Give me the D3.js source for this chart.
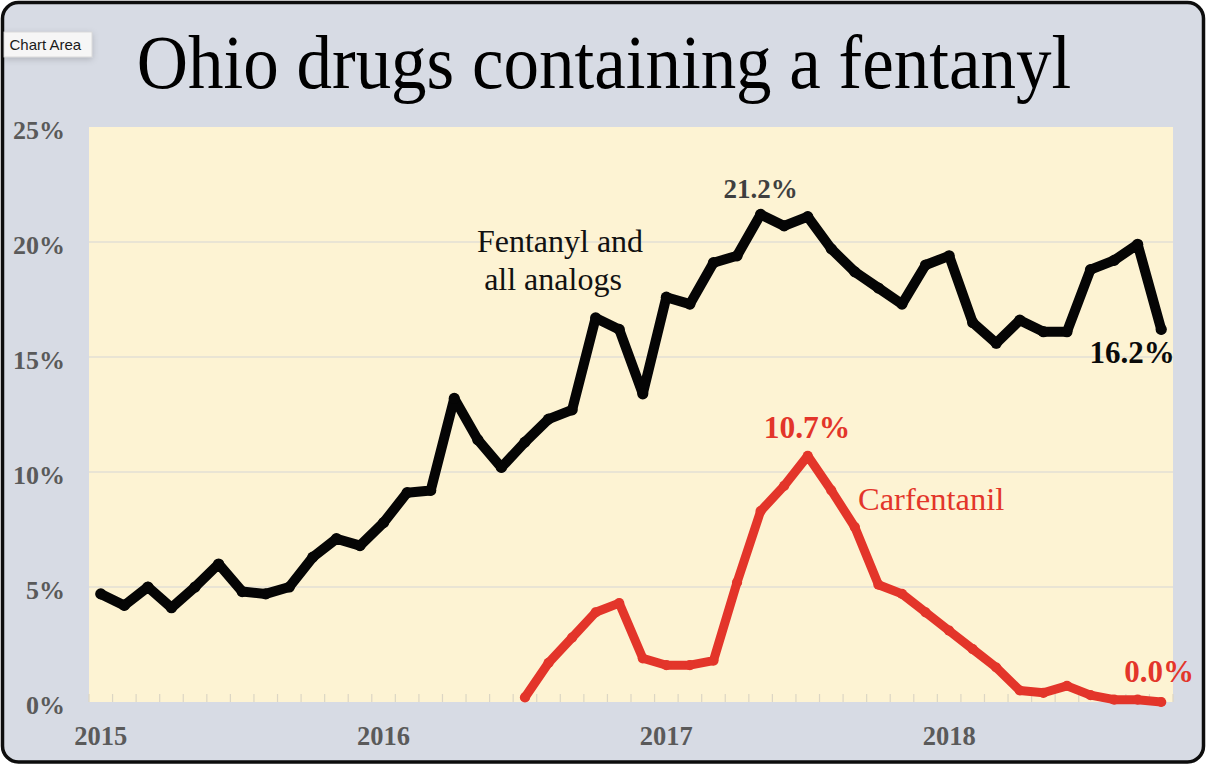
<!DOCTYPE html>
<html>
<head>
<meta charset="utf-8">
<script src="https://cdn.jsdelivr.net/npm/d3@7"></script>
<style>
  html, body { margin: 0; padding: 0; background: #ffffff; }
  svg { display: block; }
</style>
</head>
<body>
<svg id="chart" width="1206" height="765"></svg>
<script>
// Monthly share of Ohio drug samples containing a fentanyl (percent)
const months = [
  "2015-01","2015-02","2015-03","2015-04","2015-05","2015-06","2015-07","2015-08","2015-09","2015-10","2015-11","2015-12",
  "2016-01","2016-02","2016-03","2016-04","2016-05","2016-06","2016-07","2016-08","2016-09","2016-10","2016-11","2016-12",
  "2017-01","2017-02","2017-03","2017-04","2017-05","2017-06","2017-07","2017-08","2017-09","2017-10","2017-11","2017-12",
  "2018-01","2018-02","2018-03","2018-04","2018-05","2018-06","2018-07","2018-08","2018-09","2018-10"
];

const fentanylAll = [
  4.7, 4.2, 5.0, 4.1, 5.0, 6.0, 4.8, 4.7, 5.0, 6.3, 7.1, 6.8,
  7.8, 9.1, 9.2, 13.2, 11.4, 10.2, 11.3, 12.3, 12.7, 16.7, 16.2, 13.4,
  17.6, 17.3, 19.1, 19.4, 21.2, 20.7, 21.1, 19.7, 18.7, 18.0, 17.3, 19.0,
  19.4, 16.5, 15.6, 16.6, 16.1, 16.1, 18.8, 19.2, 19.9, 16.2
];

// Carfentanil is tracked from July 2016 onward
const carfentanilStart = "2016-07";
const carfentanil = [
  0.2, 1.7, 2.8, 3.9, 4.3, 1.9,
  1.6, 1.6, 1.8, 5.2, 8.3, 9.4, 10.7, 9.2, 7.6, 5.1, 4.7, 3.9,
  3.1, 2.3, 1.5, 0.5, 0.4, 0.7, 0.3, 0.1, 0.1, 0.0
];

const yTicks = [0, 5, 10, 15, 20, 25];
const yearLabels = ["2015", "2016", "2017", "2018"];

const W = 1206, H = 765;
const plot = { left: 89, right: 1173, top: 127, bottom: 702 };

const svg = d3.select("#chart");
const serif = "'Liberation Serif', 'Times New Roman', serif";

// Outer chart frame
svg.append("rect")
  .attr("x", 2.5).attr("y", 2.5)
  .attr("width", W - 5).attr("height", H - 5.5)
  .attr("rx", 16).attr("ry", 16)
  .attr("fill", "#d7dbe4")
  .attr("stroke", "#0d0d0d").attr("stroke-width", 3.5);

// Plot area
svg.append("rect")
  .attr("x", plot.left).attr("y", plot.top)
  .attr("width", plot.right - plot.left).attr("height", plot.bottom - plot.top)
  .attr("fill", "#fdf3d3");

const x = d3.scaleBand().domain(months).range([plot.left, plot.right]).paddingInner(0).paddingOuter(0);
const y = d3.scaleLinear().domain([0, 25]).range([plot.bottom, plot.top]);
const cx = m => x(m) + x.bandwidth() / 2;

// Horizontal gridlines
svg.append("g")
  .selectAll("line")
  .data(yTicks.filter(t => t > 0 && t < 25))
  .join("line")
  .attr("x1", plot.left).attr("x2", plot.right)
  .attr("y1", d => y(d)).attr("y2", d => y(d))
  .attr("stroke", "#d6d6d6").attr("stroke-width", 1.2);

// Small tick marks along the category axis, at month boundaries
const boundaries = months.map(m => x(m)).concat([plot.right]);
svg.append("g")
  .selectAll("line")
  .data(boundaries)
  .join("line")
  .attr("x1", d => d).attr("x2", d => d)
  .attr("y1", plot.bottom).attr("y2", plot.bottom - 8)
  .attr("stroke", "#dcd6c4").attr("stroke-width", 1.2);

// Y axis labels
svg.append("g")
  .selectAll("text")
  .data(yTicks)
  .join("text")
  .attr("x", 65)
  .attr("y", d => y(d) + 11.5)
  .attr("text-anchor", "end")
  .attr("font-family", serif)
  .attr("font-weight", "bold")
  .attr("font-size", 26)
  .attr("fill", "#5a5a5a")
  .text(d => d + "%");

// Year labels under each January
svg.append("g")
  .selectAll("text")
  .data(yearLabels)
  .join("text")
  .attr("x", d => cx(d + "-01"))
  .attr("y", 745)
  .attr("text-anchor", "middle")
  .attr("font-family", serif)
  .attr("font-weight", "bold")
  .attr("font-size", 26.5)
  .attr("fill", "#5a5a5a")
  .text(d => d);

// Series
const blackPts = months.map((m, i) => ({ m, v: fentanylAll[i] }));
const startIdx = months.indexOf(carfentanilStart);
const redPts = carfentanil.map((v, i) => ({ m: months[startIdx + i], v }));

const line = d3.line().x(d => cx(d.m)).y(d => y(d.v));

function drawSeries(pts, color, width) {
  svg.append("path")
    .datum(pts)
    .attr("d", line)
    .attr("fill", "none")
    .attr("stroke", color)
    .attr("stroke-width", width)
    .attr("stroke-linejoin", "round")
    .attr("stroke-linecap", "round");
  svg.append("g")
    .selectAll("circle")
    .data(pts)
    .join("circle")
    .attr("cx", d => cx(d.m))
    .attr("cy", d => y(d.v))
    .attr("r", width / 2 + 0.6)
    .attr("fill", color);
}

drawSeries(blackPts, "#050505", 10);
drawSeries(redPts, "#e3352a", 9);

// Title
svg.append("text")
  .attr("x", 604).attr("y", 88)
  .attr("text-anchor", "middle")
  .attr("font-family", serif)
  .attr("font-size", 71)
  .attr("fill", "#000")
  .attr("transform", "translate(0,88) scale(1,1.08) translate(0,-88)")
  .text("Ohio drugs containing a fentanyl");

// Annotations
const peakBlack = blackPts[d3.maxIndex(fentanylAll)];
const lastBlack = blackPts[blackPts.length - 1];
const peakRed = redPts[d3.maxIndex(carfentanil)];
const lastRed = redPts[redPts.length - 1];

function note(txt, xPos, yPos, opts) {
  svg.append("text")
    .attr("x", xPos).attr("y", yPos)
    .attr("text-anchor", opts.anchor || "middle")
    .attr("font-family", serif)
    .attr("font-weight", opts.bold ? "bold" : "normal")
    .attr("font-size", opts.size)
    .attr("fill", opts.color)
    .text(txt);
}

note(peakBlack.v.toFixed(1) + "%", cx(peakBlack.m), 198, { bold: true, size: 27, color: "#3f3f3f" });
note(lastBlack.v.toFixed(1) + "%", 1132, 363, { bold: true, size: 31, color: "#0a0a0a" });
note("Fentanyl and", 560, 252, { size: 32, color: "#111" });
note("all analogs", 553, 290, { size: 32, color: "#111" });
note(peakRed.v.toFixed(1) + "%", 807, 438, { bold: true, size: 31.5, color: "#e3352a" });
note("Carfentanil", 858, 510, { size: 32.5, color: "#e3352a", anchor: "start" });
note(lastRed.v.toFixed(1) + "%", 1159, 682, { bold: true, size: 31, color: "#e3352a" });

// Hover label box in the top-left corner
const defs = svg.append("defs");
const f = defs.append("filter").attr("id", "boxShadow").attr("x", "-30%").attr("y", "-50%").attr("width", "160%").attr("height", "220%");
f.append("feDropShadow").attr("dx", 0).attr("dy", 2).attr("stdDeviation", 3).attr("flood-color", "#000").attr("flood-opacity", 0.18);

svg.append("rect")
  .attr("x", 4).attr("y", 32).attr("width", 88).attr("height", 25)
  .attr("fill", "#f6f6f6")
  .attr("stroke", "#d4d4d4").attr("stroke-width", 0.8)
  .attr("filter", "url(#boxShadow)");
svg.append("text")
  .attr("x", 9.5).attr("y", 50)
  .attr("font-family", "'Liberation Sans', Arial, sans-serif")
  .attr("font-size", 15)
  .attr("fill", "#1a1a1a")
  .text("Chart Area");
</script>
</body>
</html>
